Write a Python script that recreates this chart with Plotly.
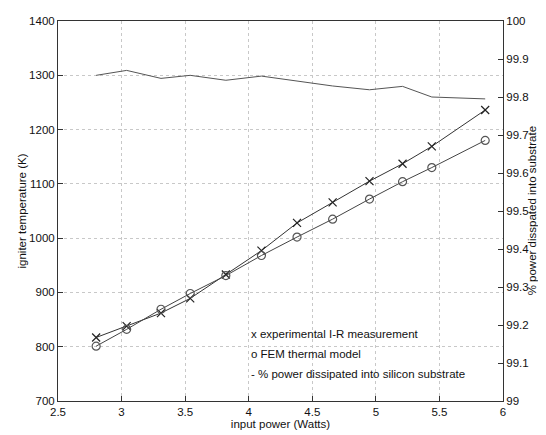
import plotly.graph_objects as go

power_w = [2.8, 3.04, 3.31, 3.54, 3.82, 4.1, 4.38, 4.66, 4.95, 5.21, 5.44, 5.86]
temp_measured = [817, 838, 862, 889, 933, 977, 1028, 1066, 1105, 1137, 1169, 1236]
temp_fem = [801, 832, 869, 898, 931, 968, 1002, 1035, 1072, 1104, 1130, 1180]
pct_dissipated = [99.857, 99.870, 99.849, 99.857, 99.844, 99.855, 99.842, 99.829,
                  99.819, 99.828, 99.800, 99.795]

pct_ticks = [99.0, 99.1, 99.2, 99.3, 99.4, 99.5, 99.6, 99.7, 99.8, 99.9, 100.0]
pct_tick_labels = ["99", "99.1", "99.2", "99.3", "99.4", "99.5", "99.6", "99.7",
                   "99.8", "99.9", "100"]

legend_lines = ["x experimental I-R measurement", "o FEM thermal model",
                "- % power dissipated into silicon substrate"]
legend_y = [823, 787, 750]

FONT = "Liberation Sans, Arial, sans-serif"

fig = go.Figure()
fig.add_trace(go.Scatter(
    x=power_w, y=temp_measured, mode="lines+markers",
    line=dict(color="#333333", width=1),
    marker=dict(symbol="x-thin-open", size=8, color="#222222",
                line=dict(color="#222222", width=1.2)),
    showlegend=False))
fig.add_trace(go.Scatter(
    x=power_w, y=temp_fem, mode="lines+markers",
    line=dict(color="#444444", width=1),
    marker=dict(symbol="circle-open", size=8, color="#555555",
                line=dict(color="#555555", width=1.2)),
    showlegend=False))
fig.add_trace(go.Scatter(
    x=power_w, y=pct_dissipated, mode="lines", yaxis="y2",
    line=dict(color="#555555", width=1),
    showlegend=False))

for txt, yy in zip(legend_lines, legend_y):
    fig.add_annotation(x=4.0, y=yy, xref="x", yref="y", text=txt,
                       showarrow=False, xanchor="left", yanchor="middle",
                       font=dict(family=FONT, size=11.5, color="#111111"))

# axis titles for the two y axes
fig.add_annotation(x=-0.082, y=0.5, xref="paper", yref="paper",
                   text="igniter temperature (K)", textangle=-90, showarrow=False,
                   xanchor="center", yanchor="middle",
                   font=dict(family=FONT, size=11.5, color="#111111"))
fig.add_annotation(x=1.066, y=0.5, xref="paper", yref="paper",
                   text="% power disspated into substrate", textangle=-90,
                   showarrow=False, xanchor="center", yanchor="middle",
                   font=dict(family=FONT, size=11.5, color="#111111"))

axis_common = dict(showline=True, linecolor="#333333", linewidth=1,
                   ticks="inside", ticklen=5, tickcolor="#333333",
                   tickfont=dict(family=FONT, size=11.5, color="#111111"),
                   zeroline=False)

fig.update_layout(
    width=538, height=427,
    margin=dict(l=50, r=43, t=7, b=32),
    paper_bgcolor="white", plot_bgcolor="white",
    font=dict(family=FONT, size=11.5, color="#111111"),
    xaxis=dict(range=[2.5, 6], dtick=0.5, tick0=2.5, mirror=True,
               showgrid=True, gridcolor="#c8c8c8", griddash="dot", gridwidth=1,
               title=dict(text="input power (Watts)", standoff=2,
                          font=dict(family=FONT, size=11.5)),
               **axis_common),
    yaxis=dict(range=[700, 1400], dtick=100, tick0=700,
               showgrid=True, gridcolor="#c8c8c8", griddash="dot", gridwidth=1,
               **axis_common),
    yaxis2=dict(range=[99, 100], tickvals=pct_ticks, ticktext=pct_tick_labels,
                overlaying="y", side="right", showgrid=False,
                **axis_common),
)

fig.write_html("out.html")
